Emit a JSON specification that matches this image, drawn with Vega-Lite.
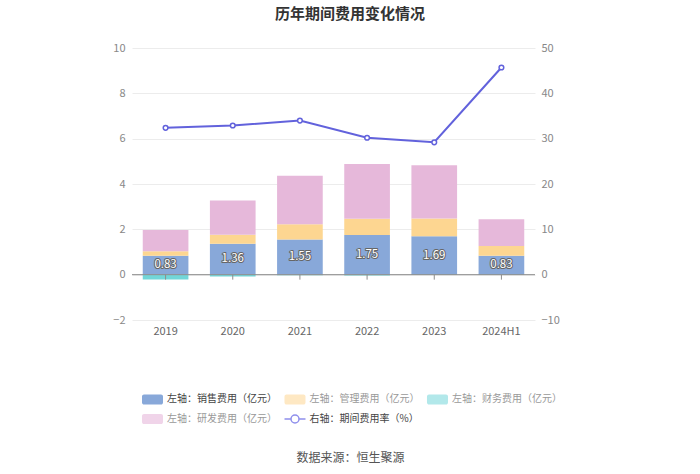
{
  "$schema": "https://vega.github.io/schema/vega-lite/v6.json",
  "width": 403,
  "height": 272,
  "autosize": {"type": "none"},
  "padding": {"left": 132, "top": 48, "right": 165, "bottom": 154},
  "background": "white",
  "config": {
    "font": "Noto Sans CJK SC",
    "view": {"stroke": null}
  },
  "title": {
    "text": "历年期间费用变化情况",
    "fontSize": 15,
    "fontWeight": "bold",
    "color": "#333333",
    "anchor": "middle",
    "frame": "group",
    "dx": 16.5,
    "offset": 20
  },
  "datasets": {
    "costs": [
      {"year": "2019", "type": "左轴：销售费用（亿元）", "value": 0.83},
      {"year": "2019", "type": "左轴：管理费用（亿元）", "value": 0.2},
      {"year": "2019", "type": "左轴：财务费用（亿元）", "value": -0.21},
      {"year": "2019", "type": "左轴：研发费用（亿元）", "value": 0.94},
      {"year": "2020", "type": "左轴：销售费用（亿元）", "value": 1.36},
      {"year": "2020", "type": "左轴：管理费用（亿元）", "value": 0.4},
      {"year": "2020", "type": "左轴：财务费用（亿元）", "value": -0.08},
      {"year": "2020", "type": "左轴：研发费用（亿元）", "value": 1.51},
      {"year": "2021", "type": "左轴：销售费用（亿元）", "value": 1.55},
      {"year": "2021", "type": "左轴：管理费用（亿元）", "value": 0.67},
      {"year": "2021", "type": "左轴：财务费用（亿元）", "value": -0.03},
      {"year": "2021", "type": "左轴：研发费用（亿元）", "value": 2.14},
      {"year": "2022", "type": "左轴：销售费用（亿元）", "value": 1.75},
      {"year": "2022", "type": "左轴：管理费用（亿元）", "value": 0.72},
      {"year": "2022", "type": "左轴：财务费用（亿元）", "value": -0.04},
      {"year": "2022", "type": "左轴：研发费用（亿元）", "value": 2.41},
      {"year": "2023", "type": "左轴：销售费用（亿元）", "value": 1.69},
      {"year": "2023", "type": "左轴：管理费用（亿元）", "value": 0.79},
      {"year": "2023", "type": "左轴：财务费用（亿元）", "value": -0.01},
      {"year": "2023", "type": "左轴：研发费用（亿元）", "value": 2.35},
      {"year": "2024H1", "type": "左轴：销售费用（亿元）", "value": 0.83},
      {"year": "2024H1", "type": "左轴：管理费用（亿元）", "value": 0.43},
      {"year": "2024H1", "type": "左轴：财务费用（亿元）", "value": -0.01},
      {"year": "2024H1", "type": "左轴：研发费用（亿元）", "value": 1.19}
    ],
    "rate": [
      {"year": "2019", "rate": 32.4},
      {"year": "2020", "rate": 32.9},
      {"year": "2021", "rate": 34.0},
      {"year": "2022", "rate": 30.2},
      {"year": "2023", "rate": 29.2},
      {"year": "2024H1", "rate": 45.7}
    ]
  },
  "layer": [
    {
      "layer": [
        {
          "data": {"name": "costs"},
          "mark": {"type": "bar"},
          "encoding": {
            "x": {
              "field": "year",
              "type": "nominal",
              "sort": null,
              "scale": {"paddingInner": 0.32, "paddingOuter": 0.16},
              "axis": {
                "title": "数据来源：恒生聚源",
                "titleX": 218,
                "titleY": 137,
                "titleAlign": "center",
                "titleAnchor": null,
                "titleBaseline": "middle",
                "titleFontSize": 12,
                "titleFontWeight": "normal",
                "titleColor": "#555555",
                "labelAngle": 0,
                "labelColor": "#666666",
                "labelFontSize": 11,
                "labelPadding": 5,
                "domain": false,
                "ticks": false,
                "grid": false
              }
            },
            "y": {
              "field": "value",
              "type": "quantitative",
              "stack": "zero",
              "scale": {"domain": [-2, 10], "nice": false},
              "axis": {
                "values": [-2, 0, 2, 4, 6, 8, 10],
                "title": null,
                "domain": false,
                "ticks": false,
                "labelColor": "#888888",
                "labelFontSize": 11,
                "labelPadding": 7,
                "grid": true,
                "gridColor": "#ececec"
              }
            },
            "color": {
              "field": "type",
              "type": "nominal",
              "scale": {
                "domain": ["左轴：销售费用（亿元）", "左轴：管理费用（亿元）", "左轴：财务费用（亿元）", "左轴：研发费用（亿元）", "右轴：期间费用率（%）"],
                "range": ["#88a8d9", "#fdd691", "#72d6d8", "#e6b8da", "#6464dc"]
              },
              "legend": {
                "title": null,
                "orient": "none",
                "legendX": 10.5,
                "legendY": 341,
                "direction": "horizontal",
                "columns": 3,
                "columnPadding": 3.5,
                "rowPadding": 1,
                "symbolSize": 324,
                "labelFontSize": 10,
                "labelOffset": 4.5,
                "labelLimit": 300,
                "encode": {
                  "symbols": {
                    "update": {
                      "shape": {"signal": "datum.index === 4 ? 'M-1.167,0H-0.444M0.444,0H1.167M-0.444,0A0.444,0.444 0 1 1 0.444,0A0.444,0.444 0 1 1 -0.444,0Z' : 'M-0.944,-0.556H0.944A0.222,0.222 0 0 1 1.167,-0.333V0.333A0.222,0.222 0 0 1 0.944,0.556H-0.944A0.222,0.222 0 0 1 -1.167,0.333V-0.333A0.222,0.222 0 0 1 -0.944,-0.556Z'"},
                      "fillOpacity": {"signal": "[1, 0.55, 0.55, 0.6, 0][datum.index]"},
                      "stroke": {"signal": "datum.index === 4 ? '#8f8fec' : 'transparent'"},
                      "strokeOpacity": {"value": 1},
                      "strokeWidth": {"value": 1.5}
                    }
                  },
                  "labels": {
                    "update": {
                      "fill": {"signal": "datum.index === 0 || datum.index === 4 ? '#444444' : '#999999'"}
                    }
                  }
                }
              }
            },
            "order": {"field": "type", "sort": "descending"}
          }
        },
        {
          "data": {"name": "rate"},
          "mark": {"type": "rule", "color": "#8c8c8c", "strokeWidth": 1},
          "encoding": {
            "x": {"field": "year", "type": "nominal", "sort": null},
            "y": {"datum": 0},
            "y2": {"datum": -0.22}
          }
        },
        {
          "data": {"values": [{}]},
          "mark": {"type": "rule", "color": "#8c8c8c", "strokeWidth": 1},
          "encoding": {"y": {"datum": 0}}
        }
      ]
    },
    {
      "data": {"name": "rate"},
      "mark": {
        "type": "line",
        "color": "#6262dc",
        "strokeWidth": 2,
        "point": {"filled": false, "fill": "#ffffff", "size": 22, "strokeWidth": 1.5, "color": "#6262dc"}
      },
      "encoding": {
        "x": {"field": "year", "type": "nominal", "sort": null},
        "y": {
          "field": "rate",
          "type": "quantitative",
          "scale": {"domain": [-10, 50], "nice": false},
          "axis": {
            "orient": "right",
            "values": [-10, 0, 10, 20, 30, 40, 50],
            "title": null,
            "domain": false,
            "ticks": false,
            "grid": false,
            "labelColor": "#888888",
            "labelFontSize": 11,
            "labelPadding": 6
          }
        }
      }
    },
    {
      "data": {"name": "costs"},
      "transform": [{"filter": "datum.type === '左轴：销售费用（亿元）'"}],
      "mark": {"type": "text", "fontSize": 11.5, "fill": "#666666", "stroke": "#666666", "strokeWidth": 2, "strokeJoin": "round", "baseline": "middle", "align": "center"},
      "encoding": {
        "x": {"field": "year", "type": "nominal", "sort": null},
        "y": {"field": "value", "type": "quantitative", "scale": {"domain": [-4, 20], "nice": false}, "axis": null},
        "text": {"field": "value", "type": "quantitative", "format": ".2f"}
      }
    },
    {
      "data": {"name": "costs"},
      "transform": [{"filter": "datum.type === '左轴：销售费用（亿元）'"}],
      "mark": {"type": "text", "fontSize": 11.5, "fill": "#ffffff", "baseline": "middle", "align": "center"},
      "encoding": {
        "x": {"field": "year", "type": "nominal", "sort": null},
        "y": {"field": "value", "type": "quantitative", "scale": {"domain": [-4, 20], "nice": false}, "axis": null},
        "text": {"field": "value", "type": "quantitative", "format": ".2f"}
      }
    }
  ],
  "resolve": {"scale": {"y": "independent"}}
}
